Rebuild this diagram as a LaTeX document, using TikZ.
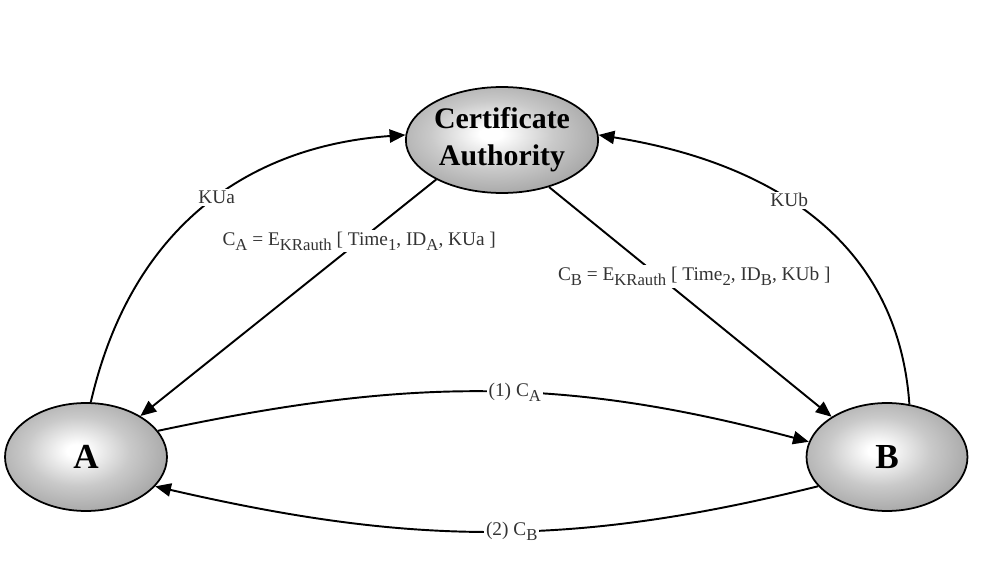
\documentclass[tikz,border=0pt]{standalone}
\usepackage{fontspec}
\setmainfont{Liberation Serif}
\usetikzlibrary{arrows.meta,shapes.geometric}

\pgfdeclareradialshading{ballgray}{\pgfpoint{-3bp}{3bp}}{color(0bp)=(white); color(3bp)=(white); color(16bp)=(gray!42); color(26bp)=(gray!64); color(35bp)=(gray!84); color(100bp)=(gray!84)}
\newcommand{\lsub}[1]{\raisebox{-3pt}{\fontsize{9.5}{10}\selectfont #1}}

\begin{document}
\begin{tikzpicture}[x=0.02cm,y=0.02cm]
		\tikzset{party/.style = {shape=ellipse, draw, line width=1pt, shading=ballgray, inner sep=0pt, font=\fontsize{20}{24}\selectfont\bfseries},
			lbl/.style = {fill=white, inner sep=1pt, text=black!80, font=\fontsize{11}{13}\selectfont},
			msg/.style = {line width=1.1pt, -{Triangle[length=9pt,width=7.5pt]}}}

		\useasboundingbox (0,0) rectangle (995,579);

		\node[party, minimum width=3.76cm, minimum height=2.12cm, align=center, font=\fontsize{17}{21}\selectfont\bfseries] (CA) at (502,439) {Certificate\\Authority};
		\node[party, minimum width=3.24cm, minimum height=2.16cm] (A) at (86,122) {A};
		\node[party, minimum width=3.22cm, minimum height=2.16cm] (B) at (887,122) {B};




		\draw[msg] (A.85) to[out=77,in=184,out distance=3.7cm,in distance=3.05cm] node[lbl, pos=0.53] {KUa} (CA.177);
		\draw[msg] (B.67) to[out=94,in=-9,out distance=3.75cm,in distance=2.75cm] node[lbl, pos=0.53] {KUb} (CA.3);
		\draw[msg] (CA.211) -- node[lbl, pos=0.26] {C\lsub{A} = E\lsub{KRauth} [ Time\lsub{1}, ID\lsub{A}, KUa ]} (A.37);
		\draw[msg] (CA.315) -- node[lbl, pos=0.39, xshift=0.7cm] {C\lsub{B} = E\lsub{KRauth} [ Time\lsub{2}, ID\lsub{B}, KUb ]} (B.144);
		\draw[msg] (A.20) to[out=12,in=165] node[lbl, pos=0.55] {(1) C\lsub{A}} (B.169);
		\draw[msg] (B.203) to[out=194,in=-13] node[lbl, pos=0.46] {(2) C\lsub{B}} (A.337);

	\end{tikzpicture}
\end{document}
